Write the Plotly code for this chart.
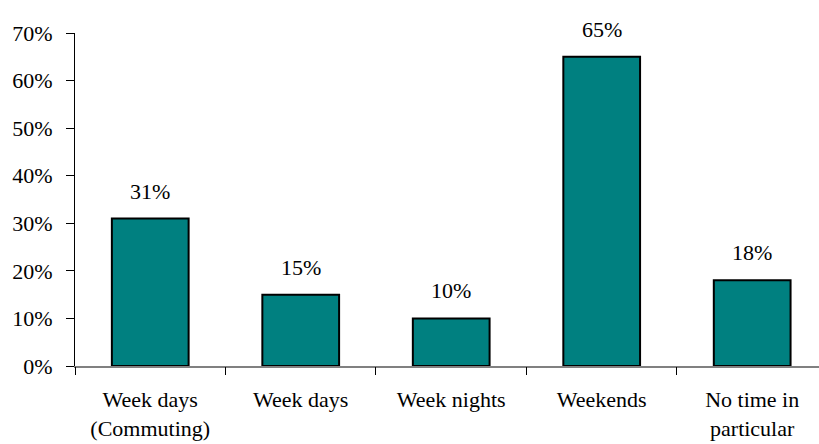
import plotly.graph_objects as go

# Share of respondents by preferred time
categories = ["Week days<br>(Commuting)", "Week days", "Week nights", "Weekends", "No time in<br>particular"]
values = [31, 15, 10, 65, 18]
value_labels = ["31%", "15%", "10%", "65%", "18%"]
y_ticks = [0, 10, 20, 30, 40, 50, 60, 70]
y_tick_labels = ["0%", "10%", "20%", "30%", "40%", "50%", "60%", "70%"]

FONT = "Liberation Serif"
FSIZE = 22

fig = go.Figure()
fig.add_trace(go.Bar(
    x=list(range(len(categories))),
    y=values,
    marker=dict(color="#008080", line=dict(color="#000000", width=2)),
    width=0.51,
    hoverinfo="skip",
))

for i, (v, lab) in enumerate(zip(values, value_labels)):
    fig.add_annotation(
        x=i, y=v, text=lab, showarrow=False,
        yanchor="bottom", yshift=13,
        font=dict(family=FONT, size=FSIZE, color="#000000"),
    )

fig.update_layout(
    width=819, height=444,
    margin=dict(l=75, r=0, t=33, b=78),
    paper_bgcolor="white", plot_bgcolor="white",
    showlegend=False,
    font=dict(family=FONT, size=FSIZE, color="#000000"),
)

fig.update_xaxes(
    range=[-0.5, 4.444],
    tickmode="array",
    tickvals=list(range(len(categories))),
    ticktext=categories,
    tickfont=dict(family=FONT, size=FSIZE, color="#000000"),
    showgrid=False, zeroline=False,
    showline=True, linecolor="#808080", linewidth=2,
    ticks="", ticklabelstandoff=13, automargin=False,
)
# category boundary ticks on the x axis
fig.update_layout(xaxis2=dict(
    overlaying="x", matches="x", side="bottom",
    tickmode="array", tickvals=[-0.5, 0.5, 1.5, 2.5, 3.5, 4.5],
    ticks="outside", ticklen=8, tickcolor="#000000", tickwidth=1,
    showticklabels=False, showgrid=False, zeroline=False, showline=False,
    anchor="y", automargin=False,
))
fig.add_trace(go.Scatter(x=[None], y=[None], xaxis="x2", showlegend=False, hoverinfo="skip"))

fig.update_yaxes(
    range=[0, 70],
    tickmode="array", tickvals=y_ticks, ticktext=y_tick_labels,
    tickfont=dict(family=FONT, size=FSIZE, color="#000000"),
    showgrid=False, zeroline=False,
    showline=True, linecolor="#000000", linewidth=1,
    ticks="outside", ticklen=8, tickcolor="#000000", tickwidth=1,
    ticklabelstandoff=9, automargin=False,
)

fig.write_html("out.html")
